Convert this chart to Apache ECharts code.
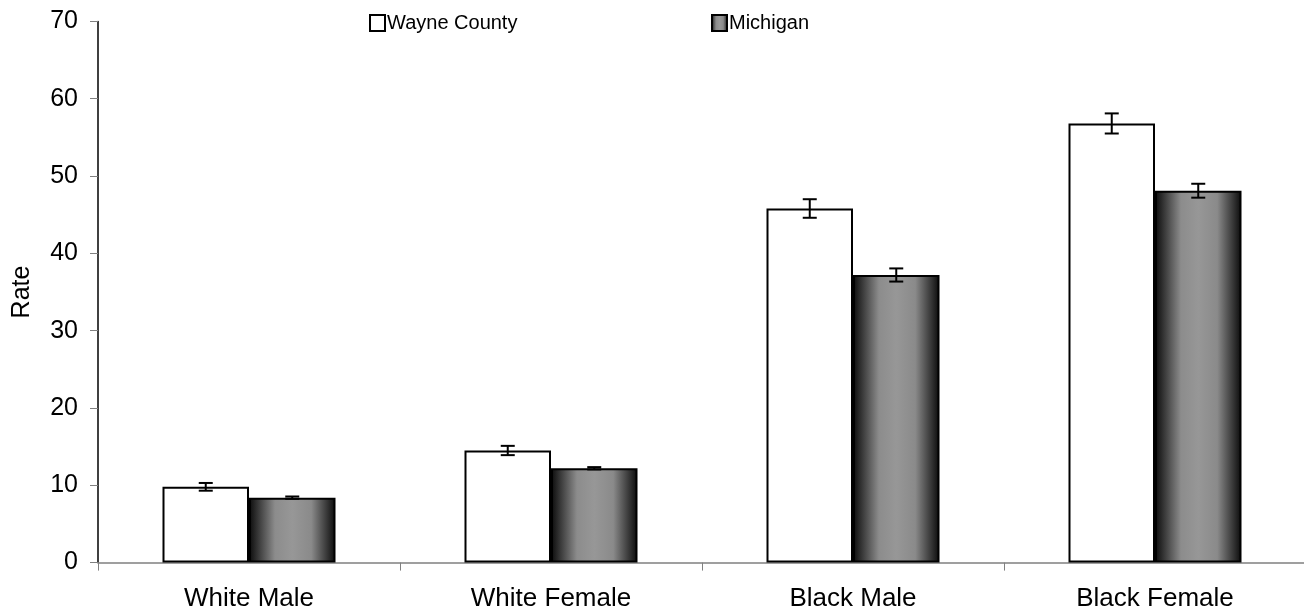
<!DOCTYPE html>
<html lang="en">
<head>
  <meta charset="UTF-8">
  <title>Rate by race and sex</title>
  <script src="https://cdn.jsdelivr.net/npm/echarts@6/dist/echarts.min.js"></script>
  <style>
    * { margin: 0; padding: 0; }
    body { background: #fff; }
    #chart { width: 1304px; height: 615px; }
  </style>
</head>
<body>
  <div id="chart"></div>
  <script type="text/javascript">
    const categories = ['White Male', 'White Female', 'Black Male', 'Black Female']
    const wayneRates = [9.8, 14.5, 45.8, 56.8]
    const wayneErr = [0.5, 0.6, 1.2, 1.3]
    const michiganRates = [8.4, 12.2, 37.2, 48.1]
    const michiganErr = [0.15, 0.15, 0.85, 0.9]
    const yTicks = [0, 10, 20, 30, 40, 50, 60, 70]

    const font = 'Liberation Sans, Arial, sans-serif'
    const barW = 86.5  // 每个柱子的宽度

    // 密歇根柱子的圆柱渐变
    const cylinder = new echarts.graphic.LinearGradient(0, 0, 1, 0, [
      { offset: 0, color: '#0a0a0a' },
      { offset: 0.3, color: '#8c8c8c' },
      { offset: 0.5, color: '#979797' },
      { offset: 0.72, color: '#8a8a8a' },
      { offset: 1, color: '#0a0a0a' }
    ])

    function errData(vals, errs) {
      return vals.map((v, i) => [i, v - errs[i], v + errs[i]])
    }

    function errRender(shift) {
      return function (params, api) {
        const lo = api.coord([api.value(0), api.value(1)])
        const hi = api.coord([api.value(0), api.value(2)])
        const x = lo[0] + shift
        const cap = 7
        const style = { stroke: '#000', lineWidth: 2 }
        return {
          type: 'group',
          children: [
            { type: 'line', shape: { x1: x, y1: lo[1], x2: x, y2: hi[1] }, style },
            { type: 'line', shape: { x1: x - cap, y1: lo[1], x2: x + cap, y2: lo[1] }, style },
            { type: 'line', shape: { x1: x - cap, y1: hi[1], x2: x + cap, y2: hi[1] }, style }
          ]
        }
      }
    }

    const legendText = { fontSize: 20, fontFamily: font, color: '#000', padding: [2, 0, 0, -3] }

    const chart = echarts.init(document.getElementById('chart'))
    const option = {
      animation: false,
      textStyle: { fontFamily: font, color: '#000' },
      grid: {
        left: 98, right: -2, top: 21.4, bottom: 52.4,
        containLabel: false, outerBoundsMode: 'none'
      },
      legend: [
        {
          data: ['Wayne County'], left: 369, top: 13, padding: 0,
          itemWidth: 15, itemHeight: 16, icon: 'rect',
          textStyle: legendText
        },
        {
          data: ['Michigan'], left: 711, top: 13, padding: 0,
          itemWidth: 15, itemHeight: 16, icon: 'rect',
          textStyle: legendText
        }
      ],
      xAxis: {
        type: 'category',
        data: categories,
        axisLine: { lineStyle: { color: '#808080', width: 1.5 } },
        axisTick: { show: true, length: 8, lineStyle: { color: '#808080' } },
        axisLabel: { fontSize: 26, color: '#000', margin: 23, fontFamily: font }
      },
      yAxis: {
        type: 'value',
        min: 0, max: 70, interval: 10,
        name: 'Rate',
        nameLocation: 'middle',
        nameGap: 63,
        nameRotate: 90,
        nameTextStyle: { fontSize: 25, color: '#000', fontFamily: font },
        splitLine: { show: false },
        axisLine: { show: true, lineStyle: { color: '#000', width: 1.5 } },
        axisTick: { show: true, length: 8, lineStyle: { color: '#808080' } },
        axisLabel: {
          fontSize: 25, color: '#000', margin: 20, fontFamily: font,
          formatter: v => (yTicks.includes(v) ? String(v) : '')
        }
      },
      series: [
        {
          name: 'Wayne County',
          type: 'bar',
          data: wayneRates,
          barWidth: barW,
          barGap: '0%',
          itemStyle: { color: '#fff', borderColor: '#000', borderWidth: 2 }
        },
        {
          name: 'Michigan',
          type: 'bar',
          data: michiganRates,
          barWidth: barW,
          barGap: '0%',
          itemStyle: { color: cylinder, borderColor: '#000', borderWidth: 2 }
        },
        {
          type: 'custom',
          renderItem: errRender(-barW / 2),
          data: errData(wayneRates, wayneErr),
          z: 10
        },
        {
          type: 'custom',
          renderItem: errRender(barW / 2),
          data: errData(michiganRates, michiganErr),
          z: 10
        }
      ]
    }
    chart.setOption(option)
  </script>
</body>
</html>
